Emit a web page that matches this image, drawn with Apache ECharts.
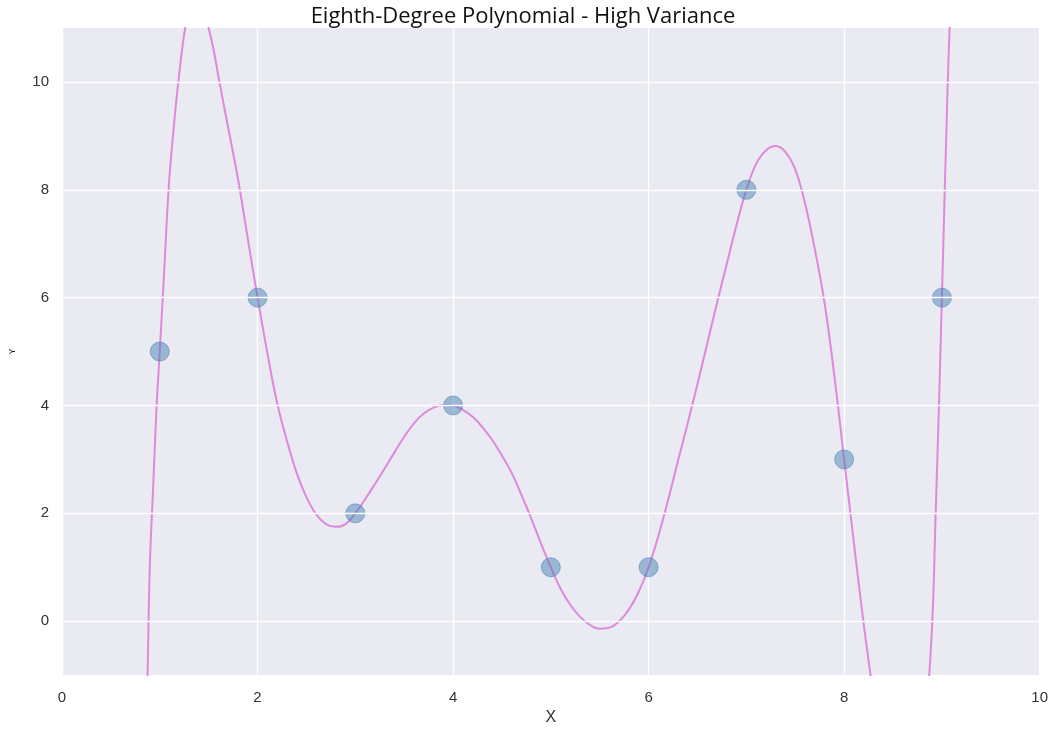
<!DOCTYPE html>
<html>
<head>
<meta charset="utf-8">
<script src="https://cdn.jsdelivr.net/npm/echarts@6/dist/echarts.min.js"></script>
<style>
  html, body { margin: 0; padding: 0; background: #fff; }
  #chart { width: 1051px; height: 731px; }
</style>
</head>
<body>
<div id="chart"></div>
<script>
// scatter samples
const pointX = [1, 2, 3, 4, 5, 6, 7, 8, 9]
const pointY = [5, 6, 2, 4, 1, 1, 8, 3, 6]

// fitted curve (values outside the view get clipped)
const curveX = [0.86, 0.875, 0.898, 0.935, 0.968, 1.0, 1.05, 1.09, 1.14, 1.19, 1.26, 1.32, 1.38, 1.44, 1.5, 1.55, 1.61, 1.7, 1.8, 1.9,
    2.0, 2.1, 2.2, 2.3, 2.4, 2.5, 2.6, 2.7, 2.8, 2.9, 3.0, 3.1, 3.2, 3.3, 3.4, 3.5, 3.6, 3.7, 3.8, 3.9,
    4.0, 4.1, 4.2, 4.3, 4.4, 4.5, 4.6, 4.7, 4.8, 4.9, 5.0, 5.1, 5.2, 5.3, 5.4, 5.5, 5.6, 5.7, 5.8, 5.9,
    6.0, 6.1, 6.2, 6.3, 6.4, 6.5, 6.6, 6.7, 6.8, 6.9, 7.0, 7.1, 7.2, 7.3, 7.4, 7.5, 7.6, 7.7, 7.8, 7.9,
    8.0, 8.1, 8.2, 8.27, 8.35, 8.55, 8.75, 8.87, 8.94, 9.0, 9.06, 9.1]
const curveY = [-2.0, -1.0, 1.0, 2.6, 4.0, 5.0, 6.65, 8.0, 9.1, 10.0, 11.0, 11.4, 11.5, 11.4, 11.0, 10.6, 10.0, 9.15, 8.2, 7.1,
    6.0, 4.98, 4.05, 3.35, 2.75, 2.3, 1.98, 1.8, 1.75, 1.8, 2.0, 2.26, 2.54, 2.83, 3.13, 3.42, 3.67, 3.85, 3.96, 4.01,
    4.0, 3.92, 3.79, 3.6, 3.36, 3.07, 2.75, 2.34, 1.9, 1.44, 1.0, 0.6, 0.3, 0.08, -0.07, -0.14, -0.12, 0.0, 0.22, 0.55,
    1.0, 1.58, 2.25, 2.97, 3.67, 4.4, 5.15, 5.9, 6.63, 7.35, 8.0, 8.48, 8.73, 8.81, 8.7, 8.38, 7.75, 6.9, 5.9, 4.55,
    3.0, 1.45, -0.05, -1.0, -2.1, -4.5, -2.5, -1.0, 2.2, 6.0, 10.0, 12.0]

const yTicks = [0, 2, 4, 6, 8, 10]

let chart = echarts.init(document.getElementById('chart'))
chart.setOption({
    animation: false,
    title: {
        text: 'Eighth-Degree Polynomial - High Variance',
        left: 518,
        textAlign: 'center',
        top: 1,
        textStyle: {
            fontFamily: 'Open Sans',
            fontSize: 22,
            fontWeight: 'normal',
            color: '#111'
        }
    },
    grid: {
        left: 60,
        right: 11,
        top: 28,
        bottom: 52,
        show: true,
        backgroundColor: '#EAEAF2',
        borderWidth: 0
    },
    xAxis: {
        type: 'value',
        min: 0,
        max: 10,
        interval: 2,
        name: 'X',
        nameLocation: 'middle',
        nameGap: 34,
        nameTextStyle: { fontSize: 16, color: '#333', fontFamily: 'Liberation Sans' },
        axisLine: { show: false },
        axisTick: { show: false },
        axisLabel: { fontSize: 15, color: '#333', margin: 15, fontFamily: 'Liberation Sans' },
        splitLine: { show: true, lineStyle: { color: '#fff', width: 1.3 } }
    },
    yAxis: {
        type: 'value',
        min: -1,
        max: 11,
        interval: 1,
        name: 'Y',
        nameLocation: 'middle',
        nameGap: 45,
        nameTextStyle: { fontSize: 9, color: '#222', fontFamily: 'Liberation Sans' },
        axisLine: { show: false },
        axisTick: { show: false },
        axisLabel: {
            fontSize: 15,
            color: '#333',
            margin: 13,
            fontFamily: 'Liberation Sans',
            formatter: v => (yTicks.indexOf(v) >= 0 ? String(v) : '')
        },
        splitLine: { show: false }
    },
    series: [
        {
            // horizontal grid lines at the labelled ticks
            type: 'line',
            data: [],
            z: 1,
            silent: true,
            markLine: {
                silent: true,
                symbol: 'none',
                label: { show: false },
                lineStyle: { color: '#fff', width: 1.3, type: 'solid' },
                data: yTicks.map(v => ({ yAxis: v }))
            }
        },
        {
            type: 'line',
            data: curveX.map((x, i) => [x, curveY[i]]),
            showSymbol: false,
            smooth: 0.4,
            clip: true,
            z: 3,
            lineStyle: { color: 'rgba(218,112,214,0.8)', width: 2 }
        },
        {
            type: 'scatter',
            data: pointX.map((x, i) => [x, pointY[i]]),
            symbolSize: 19,
            z: 4,
            itemStyle: {
                color: 'rgba(70,130,180,0.62)',
                borderColor: 'rgba(70,130,180,0.7)',
                borderWidth: 1
            }
        }
    ]
})
</script>
</body>
</html>
